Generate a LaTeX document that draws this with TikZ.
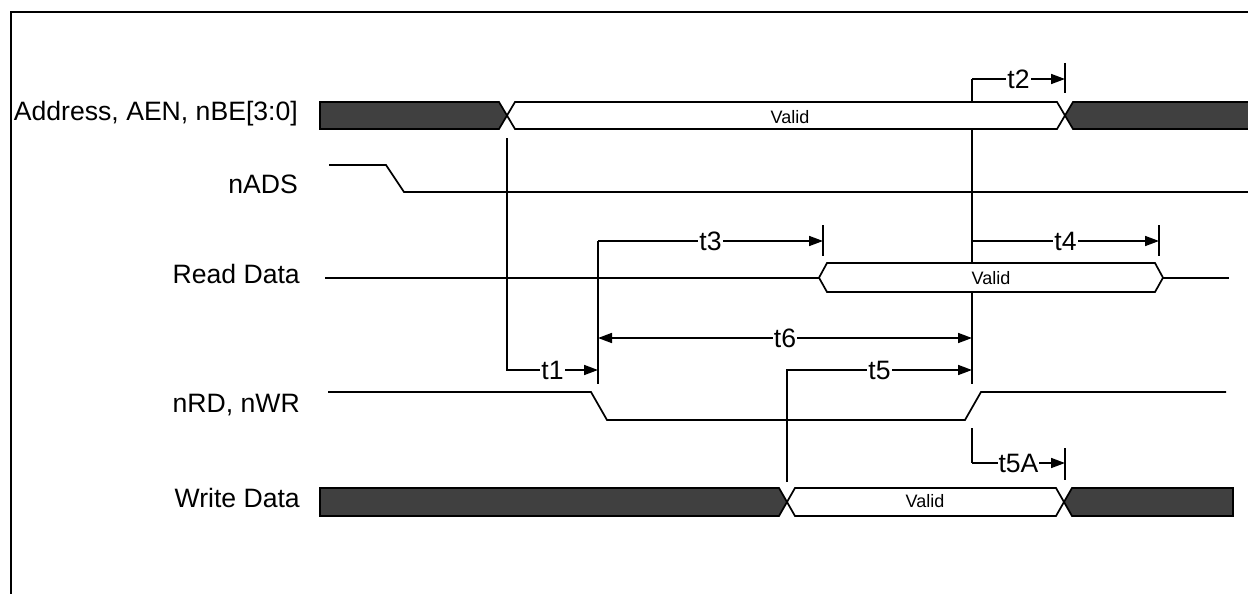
\documentclass[tikz,border=0pt]{standalone}
\usepackage{fontspec}
\setmainfont{Liberation Sans}
\usetikzlibrary{arrows.meta}
\newcommand\lblfont{\fontsize{26.6}{31}\selectfont}
\newcommand\valfont{\fontsize{18}{21}\selectfont}
\definecolor{busdark}{HTML}{404040}
\begin{document}
\begin{tikzpicture}[x=1pt,y=-1pt,
  wire/.style={line width=1.7pt, line join=miter},
  darkbus/.style={wire, fill=busdark},
  validbus/.style={wire, fill=white},
  dim/.style={line width=1.7pt, -{Triangle[length=14pt,width=10pt]}},
  dimboth/.style={line width=1.7pt, {Triangle[length=14pt,width=10pt]}-{Triangle[length=14pt,width=10pt]}},
  tlabel/.style={fill=white, inner sep=1pt, font=\lblfont},
  siglabel/.style={anchor=base east, inner sep=0pt, font=\lblfont},
  vallabel/.style={inner sep=0pt, font=\valfont}]
\useasboundingbox (0,0) rectangle (1248,594);
% frame
\draw[line width=1.8pt] (11,596) -- (11,12) -- (1250,12);

% signal names
\node[siglabel] (lAddr) at (298,121) {Address, AEN, nBE[3:0]};
\node[siglabel] (lADS) at (298,193) {nADS};
\node[siglabel] (lRD) at (300,283.5) {Read Data};
\node[siglabel] (lRW) at (300,412) {nRD, nWR};
\node[siglabel] (lWD) at (300,507) {Write Data};

% reference coordinates
\coordinate (aX) at (507,138);   % address valid edge
\coordinate (t1c) at (507,370);
\coordinate (rdF) at (598,384);  % nRD falling edge
\coordinate (rdFt) at (598,241);
\coordinate (rdR) at (972,384);  % nRD rising edge
\coordinate (rdRt) at (972,79);
\coordinate (wdX) at (787,482);  % write data valid edge
\coordinate (t5c) at (787,370);

% timing verticals
\draw[wire] (rdFt) -- (rdF);
\draw[wire] (rdRt) -- (rdR);
\draw[wire] (972,428) -- (972,463) coordinate (t5Ac);

% tick marks
\draw[wire] (1065,63) coordinate (t2e) -- (1065,93);
\draw[wire] (823,225) coordinate (t3e) -- (823,256);
\draw[wire] (1159,225) coordinate (t4e) -- (1159,256);
\draw[wire] (1065,448) coordinate (t5Ae) -- (1065,480);

% timing arrows
\draw[dim] (aX) -- (t1c) -- (598,370) node[tlabel, midway] (t1) {t1};
\draw[dim] (rdRt) -- (t2e |- rdRt) node[tlabel, midway] (t2) {t2};
\draw[dim] (rdFt) -- (t3e |- rdFt) node[tlabel, midway] (t3) {t3};
\draw[dim] (972,241) -- (t4e |- 972,241) node[tlabel, midway] (t4) {t4};
\draw[dimboth] (598,338) -- (972,338) node[tlabel, midway] (t6) {t6};
\draw[dim] (wdX) -- (t5c) -- (972,370) node[tlabel, midway] (t5) {t5};
\draw[dim] (t5Ac) -- (t5Ae |- t5Ac) node[tlabel, midway] (t5A) {t5A};

% Address bus
\draw[darkbus] (320,102) -- (499,102) -- (507,115.5) -- (499,129) -- (320,129) -- cycle;
\draw[validbus] (507,115.5) -- (515,102) -- (1057,102) -- (1065,115.5) -- (1057,129) -- (515,129) -- cycle;
\draw[darkbus] (1065,115.5) -- (1073,102) -- (1252,102) -- (1252,129) -- (1073,129) -- cycle;
\node[vallabel] (vA) at (790,117) {Valid};

% nADS
\draw[wire] (329,165) -- (386,165) -- (404,192) -- (1250,192);

% Read Data
\draw[wire] (325,277.7) -- (819,277.7);
\draw[validbus] (819,277.7) -- (827,263) -- (1155,263) -- (1163,277.7) -- (1155,292) -- (827,292) -- cycle;
\draw[wire] (1163,277.7) -- (1229,277.7);
\node[vallabel] (vR) at (991,278) {Valid};

% nRD, nWR
\draw[wire] (328,392) -- (591,392) -- (607,420) -- (965,420) -- (981,392) -- (1226,392);

% Write Data bus
\draw[darkbus] (320,488) -- (779,488) -- (787,502) -- (779,516) -- (320,516) -- cycle;
\draw[validbus] (787,502) -- (795,488) -- (1056,488) -- (1064,502) -- (1056,516) -- (795,516) -- cycle;
\draw[darkbus] (1064,502) -- (1072,488) -- (1233,488) -- (1233,516) -- (1072,516) -- cycle;
\node[vallabel] (vW) at (925,501) {Valid};
\end{tikzpicture}
\end{document}
